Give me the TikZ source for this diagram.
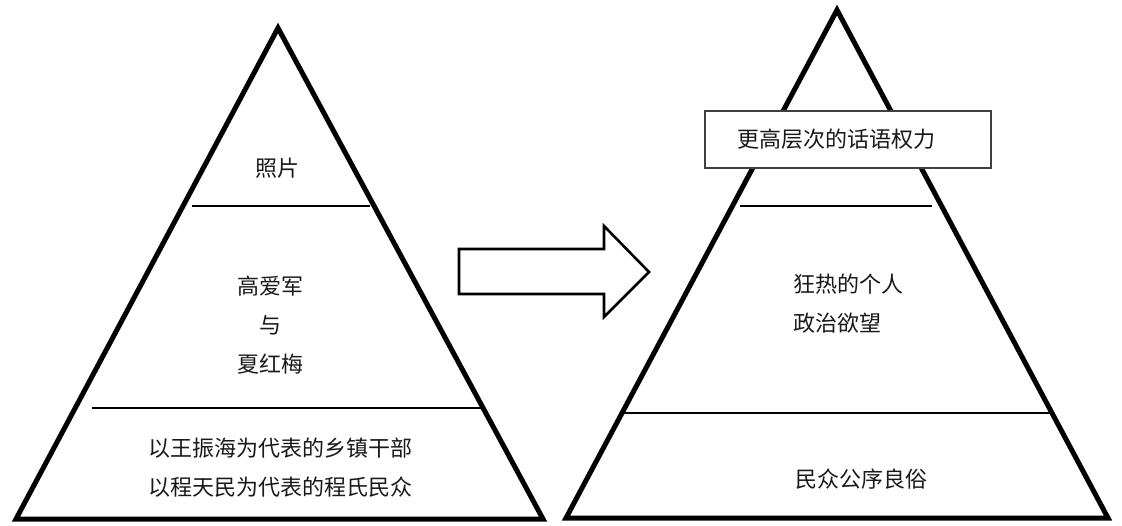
\documentclass[tikz,border=0pt]{standalone}
\usepackage{fontspec}
\newfontfamily\cjk{Noto Sans CJK SC}
\begin{document}
\begin{tikzpicture}[x=1pt,y=-1pt,
  tri/.style={line width=5pt,line join=miter},
  layer/.style={line width=2.6pt},
  lbl/.style={font=\cjk\fontsize{22}{39}\selectfont,text=black!90,inner sep=0pt,align=center},
  lblleft/.style={lbl,align=left,anchor=west},
  topbox/.style={draw=black!75,line width=1.3pt,fill=white,minimum width=286pt,minimum height=57pt,inner sep=0pt,font=\cjk\fontsize{22}{26}\selectfont,text=black!90},
  bigarrow/.style={line width=2.6pt,line join=miter,fill=white}]
\useasboundingbox (0,0) rectangle (1122,525);
% left pyramid
\draw[tri] (278,28) -- (543,519) -- (16,519) -- cycle;
\coordinate (l1a) at (192,206); \coordinate (l1b) at (370,206);
\coordinate (l2a) at (92,408);  \coordinate (l2b) at (481,408);
\draw[layer] (l1a) -- (l1b);
\draw[layer] (l2a) -- (l2b);
\node[lbl] (photo) at (277,168) {照片};
\node[lbl] (mid) at (270,325) {高爱军\\与\\夏红梅};
\node[lbl] (base) at (280,467.5) {以王振海为代表的乡镇干部\\以程天民为代表的程氏民众};
% arrow
\draw[bigarrow] (459,249) -- (604,249) -- (604,226) -- (649,272) -- (604,317) -- (604,294) -- (459,294) -- cycle;
% right pyramid
\draw[tri] (837,10) -- (1108,518) -- (566,518) -- cycle;
\coordinate (r1a) at (740,206); \coordinate (r1b) at (932,206);
\coordinate (r2a) at (624,413); \coordinate (r2b) at (1050,413);
\draw[layer] (r1a) -- (r1b);
\draw[layer] (r2a) -- (r2b);
\node[topbox] (power) at (848,139.5) {\makebox[286pt][l]{\hspace*{32pt}更高层次的话语权力}};
\node[lblleft] (desire) at (793,304) {狂热的个人\\政治欲望};
\node[lbl] (custom) at (861,479) {民众公序良俗};
\end{tikzpicture}
\end{document}
